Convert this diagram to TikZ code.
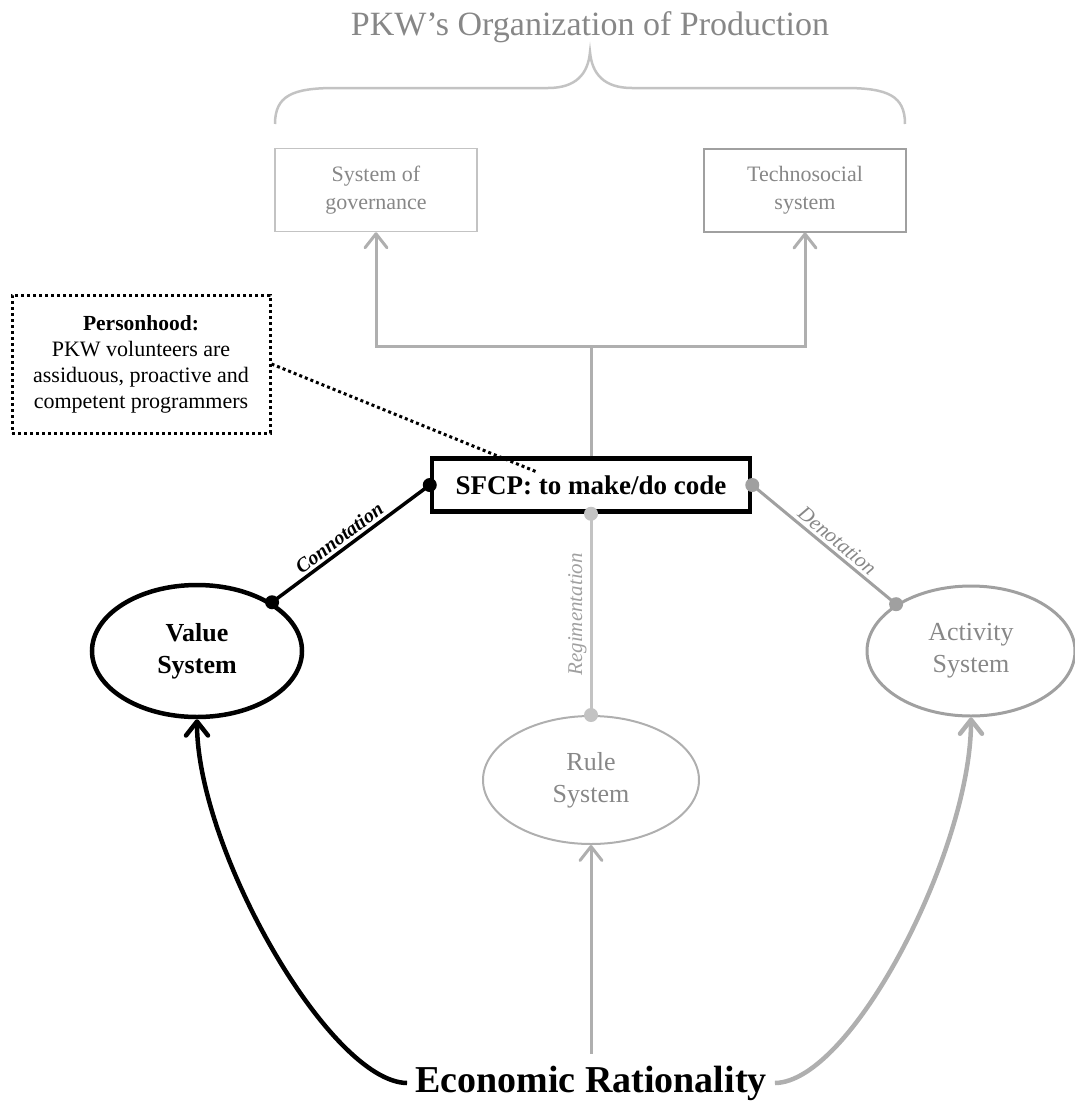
\documentclass[tikz,border=0pt]{standalone}
\usepackage{fontspec}
\setmainfont{Liberation Serif}
\usetikzlibrary{arrows.meta, shapes.geometric}
\definecolor{tgray}{RGB}{135,135,135}
\definecolor{lgray}{RGB}{175,175,175}
\definecolor{pgray}{RGB}{195,195,195}
\definecolor{mgray}{RGB}{160,160,160}

\begin{document}
\begin{tikzpicture}[
  x=1pt, y=-1pt,
  sysbox/.style={rectangle, minimum width=202pt, minimum height=83pt, inner sep=0pt, align=center, text=tgray, font=\fontsize{22}{28}\selectfont},
  core/.style={rectangle, draw=black, line width=4.5pt, minimum width=318pt, minimum height=53pt, inner sep=0pt, font=\fontsize{27}{30}\selectfont\bfseries},
  sysell/.style={ellipse, inner sep=0pt, align=center, font=\fontsize{26}{32}\selectfont},
  note/.style={rectangle, draw=black, line width=3pt, dash pattern=on 3pt off 3pt, minimum width=258pt, minimum height=138pt, inner sep=0pt, align=center, font=\fontsize{22}{26}\selectfont},
  lab/.style={sloped, above, inner sep=3pt, font=\fontsize{21}{24}\selectfont\itshape},
  tree/.style={draw=lgray, line width=3pt},
  tip/.style={-{Straight Barb[length=14pt, width=22pt, line cap=round, line join=round]}},
]
\useasboundingbox (0,0) rectangle (1075,1101);

% ---- heading and brace
\node[anchor=base, text=tgray, font=\fontsize{34}{38}\selectfont] (title) at (590,35) {PKW’s Organization of Production};
\draw[draw=pgray, line width=2.5pt] (275,124) .. controls (275,96) and (292,88) .. (335,88) -- (548,88)
  .. controls (576,88) and (588,74) .. (590,52) .. controls (592,74) and (604,88) .. (632,88) -- (845,88)
  .. controls (888,88) and (905,96) .. (905,124);

% ---- nodes
\node[sysbox, draw=pgray, line width=1.5pt] (gov)  at (376,190) {System of\\ governance};
\node[sysbox, draw=mgray, line width=2pt]   (tech) at (805,190) {Technosocial\\ system};
\node[note] (pers) at (141,364) {{\fontsize{21.5}{26}\selectfont\bfseries Personhood:}\\ PKW volunteers are\\ assiduous, proactive and\\ competent programmers};
\node[core] (sfcp) at (591,485) {SFCP: to make/do code};
\node[sysell, draw=black, line width=4.5pt, minimum width=210pt, minimum height=132pt, font=\fontsize{26}{32}\selectfont\bfseries] (val) at (197,651) {Value\\ System};
\node[sysell, draw=mgray, line width=3pt, text=tgray, minimum width=208pt, minimum height=130pt] (act) at (971,651) {Activity\\ System};
\node[sysell, draw=lgray, line width=2pt, text=tgray, minimum width=216pt, minimum height=128pt] (rule) at (591,780) {Rule\\ System};
\node[font=\fontsize{38}{42}\selectfont\bfseries, inner sep=8pt] (econ) at (591,1083) {Economic Rationality};
\coordinate (fork) at (591,346);
\coordinate (pend) at (537,472);

% ---- edges
\draw[tree] (sfcp.north) -- (fork);
\draw[tree, tip] (fork) -| (gov.south);
\draw[tree, tip] (fork) -| (tech.south);
\draw[line width=3pt, dash pattern=on 3pt off 3pt] (pers.east) -- (pend);

\draw[line width=3.5pt] (val.33) -- node[lab, pos=0.47, font=\fontsize{20}{24}\selectfont\bfseries\itshape] {Connotation} (sfcp.west);
\draw[draw=mgray, line width=3pt] (sfcp.east) -- node[lab, pos=0.54, text=tgray] {Denotation} (act.148);
\draw[draw=pgray, line width=3pt] (rule.north) -- node[lab, text=mgray] {Regimentation} (sfcp.south);
\fill[black] (val.33) circle[radius=7pt] (sfcp.west) circle[radius=7pt];
\fill[mgray] (sfcp.east) circle[radius=7pt] (act.148) circle[radius=7pt];
\fill[pgray] (sfcp.south) circle[radius=7pt] (rule.north) circle[radius=7pt];

\draw[draw=lgray, line width=3pt, tip, shorten <=4pt] (econ.north) -- (rule.south);
\draw[line width=4.5pt, tip] (econ.west) .. controls (330,1082) and (197,850) .. (val.south);
\draw[draw=lgray, line width=4.5pt, tip] (econ.east) .. controls (852,1082) and (971,850) .. (act.south);

\end{tikzpicture}
\end{document}
